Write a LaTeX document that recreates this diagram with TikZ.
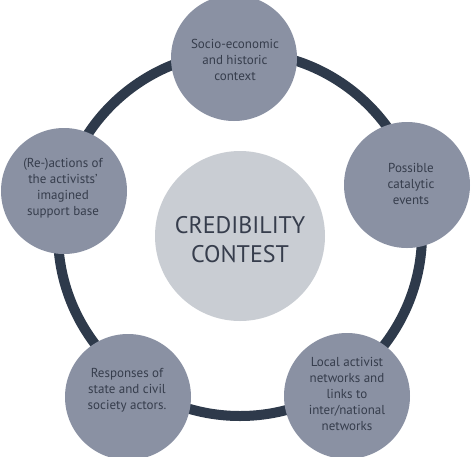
\documentclass[tikz,border=0pt]{standalone}
\usepackage{fontspec}
\setmainfont{PT Sans}
\definecolor{ringc}{HTML}{2E3A4B}
\definecolor{nodec}{HTML}{8A91A3}
\definecolor{centc}{HTML}{C9CDD3}
\definecolor{textc}{HTML}{363D4C}
\begin{document}
\begin{tikzpicture}[x=1pt,y=-1pt,
  outer/.style={circle,fill=nodec,minimum size=126pt,inner sep=0pt},
  lbl/.style={text=textc,align=center,font=\fontsize{13}{16}\selectfont},
  ring/.style={draw=ringc,line width=10pt}]
\useasboundingbox (0,0) rectangle (474,456);
\coordinate (rc) at (240,234);
\draw[ring] (rc) circle[radius=182pt];
\node[circle,fill=centc,minimum size=170pt,inner sep=0pt] (c) at (240,236) {};
\node[outer] (a) at (234,58) {};
\node[outer] (b) at (407,185) {};
\node[outer] (d) at (347,396) {};
\node[outer] (e) at (128,397) {};
\node[outer] (f) at (64,191) {};
\node[text=textc,align=center,font=\fontsize{24}{29}\selectfont] (ct) at (240,240) {CREDIBILITY\\CONTEST};
\node[lbl] (at) at (235,60) {Socio-economic\\and historic\\context};
\node[lbl] (bt) at (411,184) {Possible\\catalytic\\events};
\node[lbl] (dt) at (347,394) {Local activist\\networks and\\links to\\inter/national\\networks};
\node[lbl] (et) at (127,390) {Responses of\\state and civil\\society actors.};
\node[lbl] (ft) at (63,188) {(Re-)actions of\\the activists'\\imagined\\support base};
\end{tikzpicture}
\end{document}
